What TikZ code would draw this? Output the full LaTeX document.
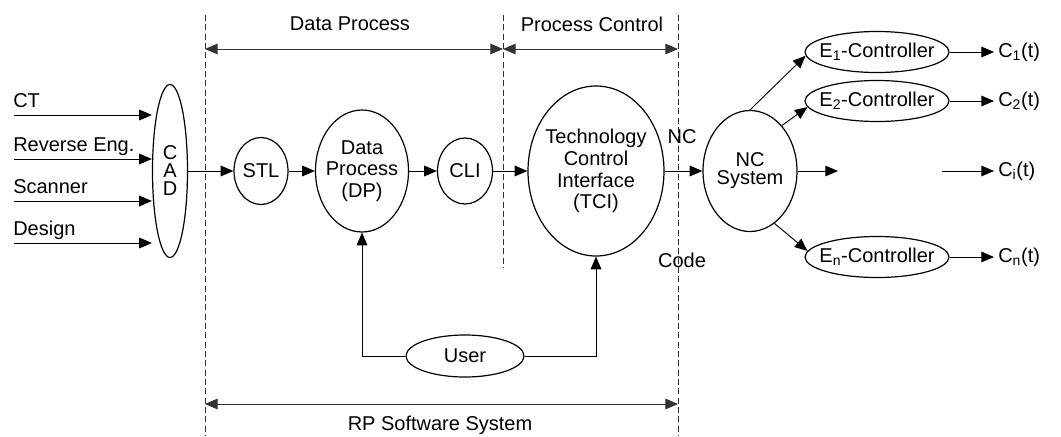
\documentclass[tikz,border=0pt]{standalone}
\usepackage{fontspec}
\setmainfont{Liberation Sans}
\usetikzlibrary{arrows.meta, positioning, shapes.geometric}

\tikzset{
  oval/.style 2 args={ellipse, draw, line width=0.9pt, minimum width=#1*0.75pt, minimum height=#2*0.75pt, inner sep=0pt},
  inner/.style={align=center, inner sep=0pt},
  arr/.style={-{Triangle[length=9.5pt,width=8pt]}, line width=0.7pt},
  span/.style={{Triangle[length=9.5pt,width=8pt]}-{Triangle[length=9.5pt,width=8pt]}, line width=0.7pt, draw=black!80},
  zone/.style={dash pattern=on 4.5pt off 2.5pt, line width=0.6pt, draw=black!80},
  outlbl/.style={anchor=west, inner sep=3pt},
}

\begin{document}
\begin{tikzpicture}[x=0.75pt, y=-0.75pt, font=\fontsize{15}{16.3}\selectfont]
    \useasboundingbox (0,0) rectangle (1061,436);
    \draw[zone] (205,15) -- (205,436);
    \draw[zone] (503,15) -- (503,268);
    \draw[zone] (678,15) -- (678,436);
    \coordinate (z1) at (205,49);
    \coordinate (z2) at (503,49);
    \coordinate (z3) at (678,49);
    \coordinate (b1) at (205,404);
    \coordinate (b3) at (678,404);
    \draw[span] (z1) -- (z2);
    \draw[span] (z2) -- (z3);
    \draw[span] (b1) -- (b3);
    \node (dpzone) at (350,24) {Data Process};
    \node (pczone) at (592,24) {Process Control};
    \node (rpzone) at (440,425) {RP Software System};

    \node[oval={35}{173}, label={[inner, font=\fontsize{15}{13.5}\selectfont]center:{C\\A\\D}}] (cad) at (170,171) {};
    \node[oval={54}{67}] (stl) at (261,171) {STL};
    \node[oval={93}{122}, label={[inner]center:{Data\\Process\\(DP)}}] (dp) at (362,171) {};
    \node[oval={55}{66}] (cli) at (465,171) {CLI};
    \node[oval={136}{170}, label={[inner]center:{Technology\\Control\\Interface\\(TCI)}}] (tci) at (596,171) {};
    \node[oval={94}{121}, label={[inner, font=\fontsize{15}{13.5}\selectfont]center:{NC\\System}}] (nc) at (750,171) {};
    \node[oval={144}{41}, label={[inner]center:{E\textsubscript{1}-Controller}}] (e1) at (877,52) {};
    \node[oval={144}{41}, label={[inner]center:{E\textsubscript{2}-Controller}}] (e2) at (877,101) {};
    \node[oval={144}{41}, label={[inner]center:{E\textsubscript{n}-Controller}}] (en) at (877,257) {};
    \node[oval={118}{42}] (user) at (465,356) {User};

    \node (nclbl) at (682,137) {NC};
    \node (codelbl) at (682,260) {Code};

    \node[outlbl] (c1) at (994,52) {C\textsubscript{1}(t)};
    \node[outlbl] (c2) at (994,101) {C\textsubscript{2}(t)};
    \node[outlbl] (ci) at (994,171) {C\textsubscript{i}(t)};
    \node[outlbl] (cn) at (994,257) {C\textsubscript{n}(t)};
    \coordinate (ncout) at (838,171);
    \coordinate (ciin) at (942,171);

    \foreach \y/\t/\n in {115/CT/ct, 159/Reverse Eng./rev, 201/Scanner/scan, 243/Design/des}{
        \coordinate (\n) at (14,\y);
        \node[anchor=base west, inner sep=0pt] (\n-lbl) at (13,\y-8) {\t};
        \draw[arr] (\n) -- (\n -| cad.west);
    }

    \draw[arr] (cad) -- (stl);
    \draw[arr] (stl) -- (dp);
    \draw[arr] (dp) -- (cli);
    \draw[arr] (cli) -- (tci);
    \draw[arr] (tci) -- (nc);
    \draw[arr] (nc) -- (ncout);
    \draw[arr] (ciin) -- (ci);
    \draw[arr] (nc.north) -- (e1.183);
    \draw[arr] (nc.55) -- (e2.185);
    \draw[arr] (nc.-65) -- (en.175);
    \draw[arr] (e1) -- (c1);
    \draw[arr] (e2) -- (c2);
    \draw[arr] (en) -- (cn);
    \draw[arr] (user.west) -| (dp.south);
    \draw[arr] (user.east) -| (tci.south);
\end{tikzpicture}
\end{document}
